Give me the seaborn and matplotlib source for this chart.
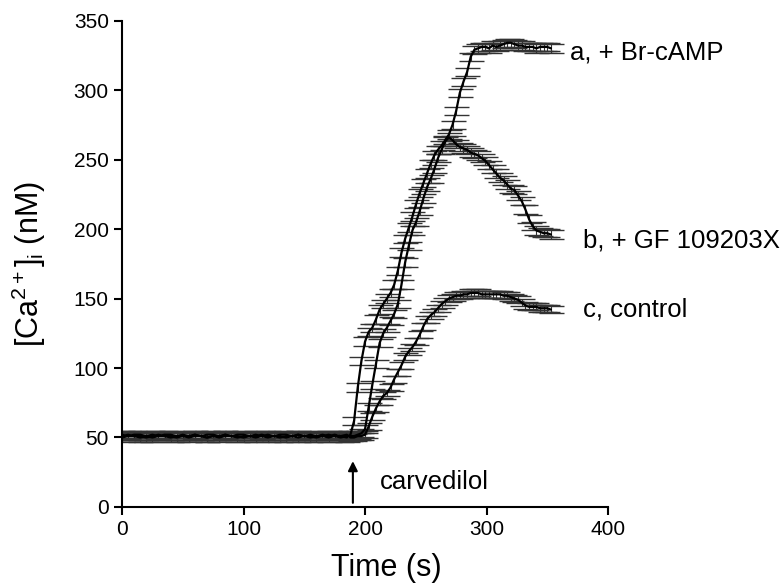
import numpy as np
import pandas as pd
import seaborn as sns
import matplotlib.pyplot as plt

# zaman noktaları (s): bazal bölüm ve carvedilol sonrası
t_base = [0, 5, 10, 15, 20, 25, 30, 35, 40, 45, 50, 55, 60, 65, 70, 75, 80, 85, 90, 95,
          100, 105, 110, 115, 120, 125, 130, 135, 140, 145, 150, 155, 160, 165, 170, 175, 180, 185]
t_rise = [188, 191, 194, 197, 200, 203, 206, 209, 212, 215,
          218, 221, 224, 227, 230, 233, 236, 239, 242, 245,
          248, 251, 254, 257, 260, 263, 266, 269, 272, 275,
          278, 281, 284, 287, 290, 293, 296, 299, 302, 305,
          308, 311, 314, 317, 320, 323, 326, 329, 332, 335,
          338, 341, 344, 347, 350, 353]

# a, + Br-cAMP
a_base = [51, 52, 51, 51, 50, 51, 52, 51, 51, 50, 51, 51, 52, 51, 50, 51, 51, 52, 51, 51,
          50, 51, 51, 52, 51, 51, 50, 51, 51, 52, 51, 50, 51, 51, 52, 51, 51, 50]
a_rise = [52, 62, 86, 105, 119, 126, 129, 135, 142, 146,
          150, 154, 160, 170, 183, 193, 201, 209, 218, 226,
          233, 240, 247, 253, 257, 260, 264, 268, 275, 285,
          298, 306, 313, 324, 329, 330, 331, 331, 330, 332,
          331, 332, 333, 334, 334, 333, 332, 332, 331, 331,
          331, 330, 331, 331, 331, 330]

# b, + GF 109203X
b_base = [50, 51, 51, 50, 51, 50, 51, 51, 50, 51, 51, 50, 51, 51, 50, 51, 50, 51, 51, 50,
          51, 51, 50, 51, 50, 51, 51, 50, 51, 50, 51, 51, 50, 51, 50, 51, 50, 51]
b_rise = [51, 51, 52, 53, 56, 72, 88, 103, 118, 125,
          129, 134, 139, 146, 160, 176, 188, 199, 205, 213,
          222, 230, 236, 243, 251, 257, 263, 266, 264, 261,
          259, 258, 257, 255, 254, 253, 251, 249, 246, 243,
          240, 237, 235, 232, 229, 228, 224, 220, 214, 207,
          202, 199, 198, 197, 197, 196]

# c, control
c_base = [52, 51, 52, 52, 51, 52, 51, 52, 52, 51, 52, 51, 52, 51, 52, 52, 51, 52, 51, 52,
          52, 51, 52, 51, 52, 51, 52, 52, 51, 52, 51, 52, 51, 52, 51, 52, 51, 52]
c_rise = [50, 50, 51, 51, 52, 58, 65, 71, 76, 80,
          82, 86, 92, 97, 102, 108, 112, 115, 119, 124,
          130, 135, 138, 140, 143, 146, 148, 150, 151, 152,
          152, 153, 153, 154, 154, 154, 153, 153, 153, 153,
          153, 153, 152, 152, 151, 150, 149, 147, 145, 144,
          144, 144, 143, 143, 143, 142]

# ortalama hata (nM)
sem = {'a': 3.0, 'b': 3.0, 'c': 2.5}

seri_labels = ['a, + Br-cAMP', 'b, + GF 109203X', 'c, control']

# uzun formatta tablo
times = t_base + t_rise
frames = []
for key, vals in [('a', a_base + a_rise), ('b', b_base + b_rise), ('c', c_base + c_rise)]:
    frames.append(pd.DataFrame({'time': times, 'ca': vals, 'seri': key, 'sem': sem[key]}))
df = pd.concat(frames, ignore_index=True)

sns.set_style("ticks")
plt.rcParams['font.family'] = ['Liberation Sans', 'DejaVu Sans']
plt.rcParams['mathtext.fontset'] = 'custom'
plt.rcParams['mathtext.rm'] = 'Liberation Sans'
plt.rcParams['mathtext.it'] = 'Liberation Sans:italic'
plt.rcParams['text.color'] = 'black'
plt.rcParams['axes.labelcolor'] = 'black'
plt.rcParams['xtick.color'] = 'black'
plt.rcParams['ytick.color'] = 'black'

fig = plt.figure(figsize=(7.84, 5.87), dpi=100)
ax = fig.add_axes([0.1556, 0.1363, 0.62, 0.8287])

# hata çubukları
for key, grp in df.groupby('seri'):
    ax.errorbar(grp['time'], grp['ca'], yerr=grp['sem'], fmt='none',
                ecolor='0.2', elinewidth=0.8, capsize=9, capthick=1.0, zorder=2)

# eğriler
sns.lineplot(data=df, x='time', y='ca', units='seri', estimator=None,
             color='black', linewidth=1.6, ax=ax, zorder=3)

ax.set_xlim(0, 400)
ax.set_ylim(0, 350)
ax.set_xticks([0, 100, 200, 300, 400])
ax.set_yticks([0, 50, 100, 150, 200, 250, 300, 350])
ax.tick_params(labelsize=15, width=1.5, length=6, direction='out',
               color='black', labelcolor='black')
sns.despine(ax=ax)
for s in ['left', 'bottom']:
    ax.spines[s].set_linewidth(1.5)
    ax.spines[s].set_color('black')

ax.set_xlabel('Time (s)', fontsize=22)
ax.xaxis.set_label_coords(0.543, -0.095)
ax.set_ylabel('[Ca$^{2+}$]$_{\\mathrm{i}}$ (nM)', fontsize=22)
ax.yaxis.set_label_coords(-0.152, 0.5)

# eğri etiketleri
ax.text(369, 327, seri_labels[0], fontsize=18.5, va='center', ha='left')
ax.text(379, 192, seri_labels[1], fontsize=18.5, va='center', ha='left')
ax.text(379, 142, seri_labels[2], fontsize=18.5, va='center', ha='left')

# carvedilol oku
ax.annotate('', xy=(190, 33), xytext=(190, 3),
            arrowprops=dict(arrowstyle='-|>', color='black', lw=1.5,
                            mutation_scale=14, shrinkA=0, shrinkB=0))
ax.text(212, 18, 'carvedilol', fontsize=18.5, va='center', ha='left')

fig.savefig('out.png', dpi=100)
